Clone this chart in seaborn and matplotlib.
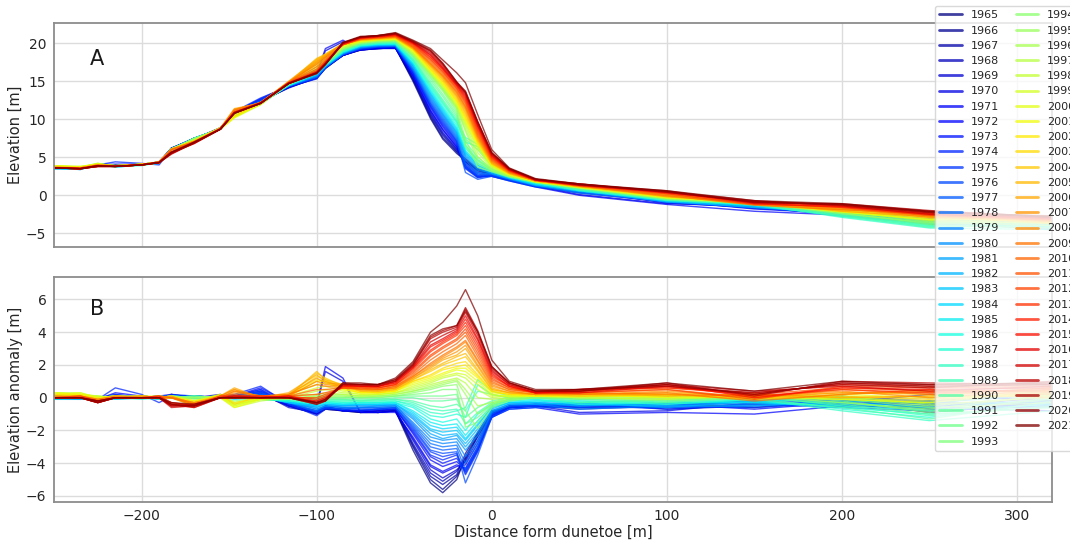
import numpy as np
import pandas as pd
import matplotlib
matplotlib.use("Agg")
import matplotlib.pyplot as plt
from matplotlib.lines import Line2D
import seaborn as sns

# ---------------- data ----------------
YEARS = list(range(1965, 2022))

# cross-shore positions [m]
X_LAND = [-250, -235, -225, -215, -200, -190, -183, -170, -155, -147, -132, -116]
X_DUNE = [-100, -95, -85, -75, -65, -55, -45, -35, -28, -20, -15, -8, 0, 10, 25]
X_SEA = [50, 100, 150, 200, 250, 320]

# mean elevation profile [m]
BASE_LAND = [3.6, 3.5, 4.1, 3.8, 4.0, 4.3, 6.0, 7.4, 8.7, 10.8, 12.1, 14.7]
BASE_DUNE = [16.4, 17.4, 19.2, 20.0, 20.2, 20.2, 18.2, 15.3, 13.2, 10.5, 8.2, 5.6, 3.7, 2.6, 1.7]
BASE_SEA = [1.0, -0.3, -1.1, -2.1, -2.9, -3.7]

# elevation anomaly per year [m]
ANOM_LAND = [
    [0.0, 0.0, -0.1, 0.0, 0.1, 0.0, 0.1, 0.0, 0.1, 0.0, 0.2, -0.5],
    [0.0, 0.1, -0.1, 0.1, 0.0, 0.0, 0.1, 0.1, 0.0, 0.1, 0.3, -0.4],
    [0.1, 0.0, 0.0, 0.0, 0.1, -0.1, 0.2, 0.0, 0.1, 0.0, 0.2, -0.5],
    [0.0, 0.1, -0.1, 0.2, 0.0, 0.0, 0.1, 0.1, 0.0, 0.1, 0.4, -0.4],
    [0.0, 0.0, 0.0, 0.1, 0.1, 0.0, 0.1, 0.0, 0.2, 0.0, 0.3, -0.6],
    [0.0, 0.1, -0.1, 0.0, 0.0, 0.1, 0.2, 0.0, 0.1, 0.1, 0.5, -0.5],
    [0.1, 0.0, 0.0, 0.1, 0.0, 0.0, 0.1, 0.1, 0.0, 0.0, 0.4, -0.4],
    [0.0, 0.0, -0.1, 0.3, 0.1, 0.0, 0.1, 0.0, 0.1, 0.1, 0.6, -0.3],
    [0.0, 0.1, 0.0, 0.1, 0.0, 0.1, 0.0, 0.1, 0.0, 0.0, 0.3, -0.5],
    [0.1, 0.0, -0.1, 0.6, 0.2, -0.3, 0.1, 0.0, 0.1, 0.2, 0.7, -0.4],
    [0.0, 0.0, 0.0, 0.2, 0.0, 0.0, 0.2, 0.1, 0.0, 0.1, 0.5, -0.3],
    [0.0, 0.1, -0.1, 0.1, 0.1, 0.0, 0.1, 0.0, 0.1, 0.0, 0.4, -0.4],
    [0.1, 0.0, 0.0, 0.0, 0.0, 0.1, 0.1, 0.1, 0.0, 0.1, 0.3, -0.3],
    [0.0, -0.1, 0.0, 0.1, 0.0, 0.0, 0.1, 0.0, 0.0, 0.1, 0.1, -0.3],
    [-0.1, 0.0, 0.0, 0.0, 0.1, 0.0, 0.0, 0.1, 0.0, 0.0, 0.2, -0.2],
    [0.0, -0.1, -0.1, 0.0, 0.0, 0.1, 0.0, 0.0, 0.1, 0.0, 0.1, -0.3],
    [-0.1, 0.0, 0.0, -0.1, 0.0, 0.0, 0.1, 0.0, 0.0, 0.1, 0.0, -0.2],
    [0.0, -0.1, 0.0, 0.0, 0.1, 0.0, 0.0, 0.1, 0.0, 0.0, 0.1, -0.3],
    [-0.1, -0.1, 0.0, 0.0, 0.0, -0.1, 0.0, 0.0, 0.1, 0.0, 0.0, -0.2],
    [0.0, 0.0, -0.2, 0.0, 0.0, 0.0, 0.1, 0.0, 0.0, -0.1, 0.0, -0.3],
    [-0.1, 0.0, 0.0, -0.1, 0.0, 0.0, 0.0, 0.1, 0.0, 0.0, -0.1, -0.2],
    [0.0, 0.0, 0.0, 0.0, -0.1, 0.0, 0.0, 0.0, 0.1, 0.0, -0.1, -0.2],
    [0.1, 0.0, -0.1, 0.0, 0.0, 0.0, 0.1, 0.0, 0.0, 0.0, 0.0, -0.1],
    [0.0, 0.1, 0.0, 0.0, 0.0, -0.1, 0.0, 0.0, 0.0, 0.1, -0.1, -0.2],
    [0.1, 0.0, 0.0, 0.1, 0.0, 0.0, 0.0, 0.1, 0.0, 0.0, 0.0, -0.1],
    [0.0, 0.1, 0.0, 0.0, 0.0, 0.0, 0.1, 0.0, 0.0, 0.0, -0.1, -0.1],
    [0.1, 0.1, 0.0, 0.0, 0.1, 0.0, 0.0, 0.0, 0.1, 0.0, 0.0, -0.1],
    [0.1, 0.0, 0.0, 0.1, 0.0, 0.0, 0.1, 0.0, 0.0, 0.1, 0.0, 0.0],
    [0.2, 0.1, 0.0, 0.0, 0.0, 0.1, 0.0, 0.0, 0.0, 0.0, 0.1, -0.1],
    [0.1, 0.2, 0.0, 0.1, 0.0, 0.0, 0.0, 0.1, 0.0, -0.2, 0.0, 0.0],
    [0.2, 0.1, 0.1, 0.0, 0.1, 0.0, 0.0, 0.0, 0.1, -0.3, 0.0, -0.1],
    [0.2, 0.2, 0.0, 0.1, 0.0, 0.0, 0.1, -0.1, 0.0, -0.4, -0.1, 0.0],
    [0.3, 0.2, 0.1, 0.0, 0.0, 0.1, 0.0, -0.2, 0.1, -0.5, -0.1, 0.1],
    [0.3, 0.3, 0.0, 0.1, 0.1, 0.0, 0.0, -0.3, 0.0, -0.6, -0.2, 0.0],
    [0.3, 0.2, 0.1, 0.0, 0.0, 0.0, 0.1, -0.2, 0.2, -0.4, -0.1, 0.1],
    [0.2, 0.3, 0.0, 0.1, 0.1, 0.1, 0.0, -0.3, 0.1, -0.5, 0.0, 0.2],
    [0.3, 0.2, -0.1, 0.0, 0.0, 0.0, 0.0, -0.4, 0.0, -0.6, -0.1, 0.1],
    [0.2, 0.2, 0.0, 0.0, 0.1, 0.0, 0.1, -0.2, 0.1, -0.3, 0.0, 0.2],
    [0.2, 0.1, -0.1, 0.1, 0.0, 0.0, 0.0, -0.3, 0.2, -0.4, 0.1, 0.1],
    [0.1, 0.1, -0.2, 0.0, 0.0, 0.0, 0.0, -0.4, 0.1, 0.5, 0.0, 0.2],
    [0.1, 0.0, -0.1, 0.0, 0.1, 0.0, 0.0, -0.5, 0.0, 0.4, 0.1, 0.1],
    [0.1, 0.1, -0.2, 0.1, 0.0, 0.1, 0.0, -0.3, 0.1, 0.6, 0.0, 0.3],
    [0.0, 0.1, -0.1, 0.0, 0.0, 0.0, 0.1, -0.4, 0.0, 0.3, 0.1, 0.2],
    [0.1, 0.0, -0.2, 0.0, 0.1, 0.0, 0.0, -0.5, 0.1, 0.5, 0.0, 0.1],
    [0.0, 0.1, -0.1, 0.1, 0.0, 0.0, 0.0, -0.3, 0.0, 0.4, 0.1, 0.2],
    [0.0, 0.0, -0.2, 0.0, 0.0, 0.1, 0.0, -0.4, 0.1, 0.2, 0.0, 0.1],
    [0.0, 0.0, -0.2, 0.0, 0.0, 0.0, -0.3, -0.5, 0.0, 0.1, 0.0, 0.1],
    [0.0, 0.0, -0.3, 0.0, 0.0, 0.0, -0.4, -0.4, 0.0, 0.0, 0.1, 0.0],
    [0.0, 0.1, -0.2, 0.0, 0.0, 0.0, -0.5, -0.5, 0.1, 0.1, 0.0, 0.1],
    [0.0, 0.0, -0.3, 0.0, 0.0, 0.0, -0.4, -0.6, 0.0, 0.0, 0.0, 0.0],
    [0.0, 0.0, -0.3, 0.0, 0.0, 0.1, -0.3, -0.5, 0.0, 0.1, 0.1, 0.0],
    [0.0, 0.0, -0.2, 0.0, 0.0, 0.0, -0.5, -0.4, 0.0, 0.0, 0.0, 0.1],
    [0.0, 0.0, -0.3, 0.0, 0.0, 0.0, -0.6, -0.5, 0.0, 0.1, 0.0, 0.0],
    [0.0, 0.0, -0.2, 0.0, 0.0, 0.0, -0.4, -0.6, 0.0, 0.0, 0.0, 0.0],
    [0.0, 0.0, -0.3, 0.0, 0.0, 0.0, -0.5, -0.5, 0.0, 0.0, 0.0, 0.0],
    [0.0, 0.0, -0.3, 0.0, 0.0, 0.0, -0.4, -0.5, 0.0, 0.0, 0.0, 0.0],
    [0.0, 0.0, -0.2, 0.0, 0.0, 0.0, -0.3, -0.4, 0.0, 0.0, 0.0, 0.0],
]

ANOM_DUNE = [
    [-1.0, -0.7, -0.8, -0.9, -0.9, -0.8, -3.2, -5.2, -5.8, -5.0, -3.6, -2.2, -0.9, -0.6, -0.5],
    [-0.9, -0.6, -0.8, -0.9, -0.8, -0.8, -3.0, -5.0, -5.6, -4.8, -3.8, -2.3, -0.9, -0.5, -0.5],
    [-1.0, -0.7, -0.8, -0.8, -0.9, -0.8, -2.9, -4.8, -5.3, -4.7, -3.4, -2.1, -0.8, -0.6, -0.4],
    [-0.8, -0.6, -0.7, -0.9, -0.8, -0.7, -2.8, -4.6, -5.1, -4.5, -3.7, -2.4, -1.0, -0.6, -0.5],
    [-0.9, -0.5, -0.8, -0.8, -0.9, -0.8, -2.6, -4.4, -4.9, -4.4, -3.9, -2.6, -1.0, -0.5, -0.4],
    [-0.5, 1.6, 1.0, -0.9, -0.9, -0.8, -2.5, -4.2, -4.6, -4.2, -4.1, -2.8, -1.1, -0.6, -0.5],
    [-0.4, 1.9, 1.2, -0.9, -0.9, -0.9, -2.4, -4.1, -4.5, -4.1, -4.3, -3.0, -1.2, -0.7, -0.6],
    [-1.0, -0.6, -0.8, -0.8, -0.8, -0.7, -2.2, -3.8, -4.2, -3.9, -4.4, -3.1, -1.1, -0.6, -0.5],
    [-0.9, -0.5, -0.8, -0.8, -0.7, -0.7, -2.1, -3.6, -4.0, -3.7, -4.5, -3.2, -1.2, -0.6, -0.5],
    [-1.1, -0.7, -0.7, -0.8, -0.7, -0.7, -2.0, -3.5, -3.8, -3.5, -4.7, -3.3, -1.0, -0.5, -0.4],
    [-0.9, -0.6, -0.7, -0.7, -0.7, -0.6, -1.9, -3.3, -3.6, -3.4, -4.6, -3.2, -1.1, -0.6, -0.5],
    [-0.8, -0.5, -0.6, -0.7, -0.7, -0.6, -1.8, -3.2, -3.4, -3.3, -5.2, -3.5, -1.2, -0.7, -0.6],
    [-0.9, -0.6, -0.7, -0.6, -0.6, -0.6, -1.7, -3.0, -3.2, -3.1, -4.4, -3.0, -1.0, -0.5, -0.5],
    [-0.8, -0.5, -0.6, -0.6, -0.6, -0.5, -1.6, -2.8, -3.0, -2.9, -4.0, -2.8, -0.9, -0.5, -0.4],
    [-0.7, -0.5, -0.6, -0.6, -0.5, -0.5, -1.5, -2.6, -2.8, -2.7, -3.6, -2.6, -0.9, -0.4, -0.4],
    [-0.7, -0.5, -0.5, -0.5, -0.5, -0.5, -1.3, -2.4, -2.6, -2.5, -3.2, -2.3, -0.8, -0.4, -0.3],
    [-0.6, -0.4, -0.5, -0.5, -0.5, -0.4, -1.2, -2.2, -2.5, -2.3, -3.0, -2.1, -0.8, -0.4, -0.4],
    [-0.6, -0.4, -0.5, -0.4, -0.4, -0.4, -1.1, -2.0, -2.3, -2.2, -2.8, -1.9, -0.7, -0.3, -0.3],
    [-0.5, -0.4, -0.4, -0.4, -0.4, -0.4, -1.0, -1.9, -2.1, -2.0, -2.6, -1.7, -0.6, -0.3, -0.3],
    [-0.5, -0.3, -0.4, -0.4, -0.4, -0.3, -0.9, -1.7, -1.9, -1.8, -2.5, -1.6, -0.6, -0.3, -0.2],
    [-0.4, -0.3, -0.4, -0.3, -0.3, -0.3, -0.8, -1.5, -1.7, -1.6, -2.3, -1.4, -0.5, -0.2, -0.2],
    [-0.4, -0.3, -0.3, -0.3, -0.3, -0.3, -0.6, -1.3, -1.5, -1.3, -2.0, -1.0, -0.4, -0.2, -0.1],
    [-0.3, -0.2, -0.3, -0.3, -0.3, -0.2, -0.5, -1.1, -1.2, -1.0, -1.2, 0.8, 0.2, 0.0, -0.1],
    [-0.3, -0.2, -0.2, -0.2, -0.2, -0.2, -0.4, -0.9, -1.0, -0.8, -0.6, 1.1, 0.4, 0.1, 0.0],
    [-0.2, -0.2, -0.2, -0.2, -0.2, -0.1, -0.3, -0.7, -0.8, -0.7, -1.6, -0.9, -0.3, -0.1, 0.0],
    [-0.2, -0.1, -0.1, -0.2, -0.1, -0.1, -0.2, -0.5, -0.6, -0.4, -0.8, 0.4, 0.2, 0.0, 0.0],
    [-0.1, -0.1, -0.1, -0.1, -0.1, 0.0, 0.0, -0.2, -0.2, -0.1, -1.2, -0.6, -0.2, 0.0, 0.1],
    [-0.1, 0.0, 0.0, 0.0, 0.0, 0.1, 0.1, 0.1, 0.1, 0.2, -1.6, -1.2, -0.4, -0.1, 0.0],
    [0.0, 0.0, 0.0, 0.0, 0.0, 0.1, 0.2, 0.3, 0.5, 0.5, -1.8, -1.5, -0.5, -0.1, 0.0],
    [0.0, 0.1, 0.1, 0.0, 0.1, 0.1, 0.3, 0.5, 0.7, 0.8, -0.8, -1.9, -0.6, -0.2, 0.0],
    [0.1, 0.1, 0.1, 0.1, 0.1, 0.2, 0.4, 0.6, 0.8, 1.0, 0.2, -1.0, -0.4, -0.1, 0.1],
    [0.1, 0.2, 0.2, 0.1, 0.1, 0.2, 0.4, 0.7, 0.9, 1.1, 0.5, -0.5, -0.3, 0.0, 0.1],
    [0.2, 0.3, 0.2, 0.1, 0.2, 0.3, 0.5, 0.8, 1.0, 1.2, 0.9, 0.0, -0.1, 0.0, 0.1],
    [0.4, 0.5, 0.3, 0.2, 0.2, 0.3, 0.6, 0.9, 1.2, 1.4, 1.2, 0.5, 0.0, 0.1, 0.1],
    [0.6, 0.7, 0.4, 0.2, 0.2, 0.3, 0.7, 1.0, 1.3, 1.5, 1.4, 0.8, 0.1, 0.1, 0.1],
    [0.8, 0.9, 0.5, 0.3, 0.3, 0.4, 0.8, 1.1, 1.4, 1.7, 1.6, 1.0, 0.2, 0.1, 0.1],
    [1.0, 1.0, 0.5, 0.3, 0.3, 0.4, 0.9, 1.2, 1.5, 1.8, 1.8, 1.2, 0.3, 0.2, 0.1],
    [1.1, 1.0, 0.6, 0.3, 0.3, 0.4, 1.0, 1.3, 1.7, 1.9, 2.0, 1.3, 0.4, 0.2, 0.1],
    [1.3, 1.1, 0.6, 0.4, 0.3, 0.5, 1.0, 1.4, 1.8, 2.1, 2.2, 1.4, 0.4, 0.2, 0.2],
    [1.5, 1.2, 0.7, 0.4, 0.4, 0.5, 1.1, 1.6, 2.0, 2.3, 2.5, 1.6, 0.5, 0.3, 0.2],
    [1.6, 1.1, 0.8, 0.4, 0.4, 0.5, 1.1, 1.7, 2.1, 2.5, 2.7, 1.7, 0.5, 0.3, 0.2],
    [1.4, 1.0, 0.7, 0.5, 0.4, 0.6, 1.2, 1.8, 2.3, 2.6, 3.0, 1.9, 0.6, 0.3, 0.2],
    [1.2, 0.9, 0.8, 0.5, 0.5, 0.6, 1.2, 1.9, 2.4, 2.8, 3.2, 2.0, 0.7, 0.4, 0.2],
    [1.0, 0.8, 0.7, 0.5, 0.5, 0.6, 1.3, 2.0, 2.5, 3.0, 3.4, 2.2, 0.8, 0.4, 0.2],
    [0.8, 0.7, 0.6, 0.5, 0.5, 0.7, 1.3, 2.1, 2.6, 3.1, 3.5, 2.3, 0.9, 0.5, 0.3],
    [0.5, 0.5, 0.6, 0.6, 0.5, 0.7, 1.4, 2.3, 2.8, 3.3, 3.8, 2.5, 1.0, 0.5, 0.3],
    [0.2, 0.3, 0.6, 0.6, 0.6, 0.8, 1.5, 2.5, 3.0, 3.5, 4.0, 2.7, 1.1, 0.6, 0.3],
    [0.0, 0.2, 0.6, 0.6, 0.6, 0.8, 1.6, 2.6, 3.1, 3.6, 4.2, 2.9, 1.2, 0.6, 0.3],
    [-0.1, 0.1, 0.7, 0.7, 0.6, 0.8, 1.7, 2.8, 3.3, 3.8, 4.4, 3.1, 1.3, 0.7, 0.3],
    [-0.2, 0.0, 0.7, 0.7, 0.7, 0.9, 1.8, 2.9, 3.4, 3.9, 4.6, 3.3, 1.4, 0.7, 0.3],
    [-0.2, 0.0, 0.7, 0.7, 0.7, 0.9, 1.8, 3.1, 3.5, 4.0, 4.8, 3.5, 1.5, 0.7, 0.3],
    [-0.3, -0.1, 0.8, 0.7, 0.7, 1.0, 1.9, 3.2, 3.6, 4.1, 5.0, 3.6, 1.6, 0.8, 0.3],
    [-0.3, -0.1, 0.8, 0.8, 0.7, 1.0, 1.9, 3.4, 3.8, 4.2, 5.2, 3.8, 1.7, 0.8, 0.4],
    [-0.4, -0.2, 0.8, 0.8, 0.8, 1.0, 2.0, 3.6, 4.0, 4.3, 5.4, 4.0, 1.8, 0.9, 0.4],
    [-0.4, -0.2, 0.8, 0.8, 0.8, 1.1, 2.0, 3.7, 4.1, 4.4, 5.5, 4.1, 1.9, 0.9, 0.4],
    [-0.3, -0.2, 0.9, 0.8, 0.8, 1.1, 2.1, 3.8, 4.2, 4.4, 5.3, 4.0, 1.9, 0.9, 0.4],
    [-0.3, -0.1, 0.9, 0.9, 0.8, 1.2, 2.2, 4.0, 4.6, 5.6, 6.6, 5.0, 2.3, 1.0, 0.5],
]

ANOM_SEA = [
    [-0.6, -0.4, -0.6, -0.2, -0.9, -0.3],
    [-0.4, -0.6, -0.4, -0.1, -0.7, -0.5],
    [-0.5, -0.3, -0.3, -0.5, -0.6, 0.1],
    [-0.7, -0.5, -0.2, 0.1, -0.4, -0.4],
    [-0.3, -0.7, -0.5, -0.2, -0.3, -0.6],
    [-0.9, -0.8, -0.3, 0.0, -0.2, 0.2],
    [-1.0, -0.9, -1.0, -0.5, -0.6, -0.8],
    [-0.5, -0.4, -0.7, -0.3, 0.2, -0.2],
    [-0.6, -0.6, -0.2, -0.4, -0.3, 0.3],
    [-0.4, -0.7, -0.4, -0.6, -0.8, -0.5],
    [-0.5, -0.5, -0.6, -0.3, -0.5, 0.0],
    [-0.6, -0.4, -0.2, -0.1, -0.4, -0.3],
    [-0.4, -0.6, -0.5, -0.4, -0.2, -0.6],
    [-0.5, -0.3, -0.3, -0.5, -0.6, -0.2],
    [-0.7, -0.5, -0.1, -0.2, -0.3, -0.4],
    [-0.4, -0.4, -0.4, -0.3, -0.5, 0.1],
    [-0.3, -0.6, -0.2, 0.0, -0.4, -0.3],
    [-0.5, -0.3, -0.3, -0.4, -0.7, -0.5],
    [-0.4, -0.5, -0.5, -0.2, -0.3, 0.2],
    [-0.3, -0.4, -0.1, -0.3, -0.6, -0.1],
    [-0.2, -0.3, -0.3, -0.5, -0.8, -0.4],
    [-0.3, -0.2, -0.2, -0.6, -1.0, -0.6],
    [-0.4, -0.3, 0.0, -0.7, -1.2, -0.3],
    [-0.2, -0.4, -0.1, -0.8, -1.4, -0.8],
    [-0.1, -0.2, 0.1, -0.5, -1.1, -0.5],
    [-0.3, -0.1, -0.1, -0.6, -1.3, -0.2],
    [-0.1, -0.3, 0.0, -0.4, -1.0, -0.6],
    [0.0, -0.1, 0.1, -0.3, -0.8, -0.1],
    [-0.1, 0.0, 0.2, -0.2, -0.9, 0.0],
    [0.0, -0.2, 0.0, -0.1, -0.6, -0.3],
    [0.1, 0.0, 0.1, -0.3, -0.7, 0.2],
    [0.0, 0.1, 0.2, 0.0, -0.5, 0.1],
    [0.1, 0.0, 0.0, -0.1, -0.3, 0.3],
    [0.2, 0.1, 0.2, 0.1, -0.4, 0.0],
    [0.0, -0.1, 0.1, 0.0, -0.2, 0.4],
    [0.1, 0.2, -0.1, 0.2, 0.0, 0.2],
    [0.2, 0.0, 0.1, -0.1, -0.3, 0.5],
    [0.1, 0.1, 0.2, 0.0, 0.1, 0.1],
    [0.2, 0.2, 0.0, 0.1, -0.1, 0.3],
    [0.2, 0.3, 0.1, 0.3, 0.2, 0.0],
    [0.1, 0.2, -0.1, 0.2, 0.4, 0.4],
    [0.3, 0.1, 0.2, 0.0, 0.1, 0.6],
    [0.2, 0.4, 0.0, 0.3, 0.3, 0.2],
    [0.3, 0.2, 0.1, 0.4, 0.0, 0.5],
    [0.2, 0.3, -0.2, 0.2, 0.5, 0.3],
    [0.3, 0.5, 0.0, 0.5, 0.2, 0.6],
    [0.4, 0.6, 0.2, 0.6, 0.4, 0.4],
    [0.3, 0.5, -0.1, 0.7, 0.6, 0.7],
    [0.4, 0.7, 0.1, 0.5, 0.3, 0.5],
    [0.5, 0.6, 0.3, 0.8, 0.7, 0.8],
    [0.4, 0.8, 0.0, 0.6, 0.5, 0.6],
    [0.3, 0.7, 0.2, 0.9, 0.8, 0.9],
    [0.5, 0.8, 0.4, 0.7, 0.4, 0.7],
    [0.4, 0.9, 0.1, 1.0, 0.9, 0.8],
    [0.5, 0.7, 0.3, 0.8, 0.6, 1.0],
    [0.4, 0.8, 0.2, 0.9, 0.7, 0.8],
    [0.5, 0.9, 0.4, 1.0, 0.8, 0.9],
]

X_TICKS = [-200, -100, 0, 100, 200, 300]
YA_TICKS = [-5, 0, 5, 10, 15, 20]
YB_TICKS = [-6, -4, -2, 0, 2, 4, 6]

# ---------------- build long table ----------------
x_all = np.array(X_LAND + X_DUNE + X_SEA, dtype=float)
base = np.array(BASE_LAND + BASE_DUNE + BASE_SEA)
rows = []
for i, yr in enumerate(YEARS):
    anom = np.array(ANOM_LAND[i] + ANOM_DUNE[i] + ANOM_SEA[i])
    for xv, b, a in zip(x_all, base, anom):
        rows.append({"year": str(yr), "x": xv, "elev": b + a, "anom": a})
df = pd.DataFrame(rows)

year_labels = [str(y) for y in YEARS]
colors = [plt.cm.jet(v) for v in np.linspace(0, 1, len(YEARS))]

# ---------------- figure ----------------
sns.set_theme(style="whitegrid")
plt.rcParams["font.family"] = ["DejaVu Sans"]

fig = plt.figure(figsize=(10.7, 5.4), dpi=100)
axA = fig.add_axes([0.0505, 0.542, 0.9327, 0.416])
axB = fig.add_axes([0.0505, 0.0709, 0.9327, 0.4156])

line_kw = dict(hue="year", hue_order=year_labels, palette=colors, legend=False,
               linewidth=1.0, alpha=0.72, estimator=None, sort=False)
sns.lineplot(data=df, x="x", y="elev", ax=axA, **line_kw)
sns.lineplot(data=df, x="x", y="anom", ax=axB, **line_kw)

for ax in (axA, axB):
    ax.set_facecolor("white")
    ax.set_xlim(-250, 320)
    ax.set_xticks(X_TICKS)
    ax.grid(True, color="#dcdcdc", linewidth=1.0)
    for sp in ax.spines.values():
        sp.set_color("#8c8c8c")
        sp.set_linewidth(1.3)
    ax.tick_params(axis="both", which="major", length=3.5, width=0.8,
                   color="#8c8c8c", labelsize=10, labelcolor="#262626", pad=2)

axA.set_ylim(-6.84, 22.7)
axA.set_yticks(YA_TICKS)
axA.tick_params(labelbottom=False)
axA.set_xlabel("")
axA.set_ylabel("Elevation [m]", fontsize=10.5, color="#262626", labelpad=2)

axB.set_ylim(-6.35, 7.35)
axB.set_yticks(YB_TICKS)
axB.set_xlabel("Distance form dunetoe [m]", fontsize=10.5, color="#262626", labelpad=1)
axB.set_ylabel("Elevation anomaly [m]", fontsize=10.5, color="#262626", labelpad=2)

axA.text(0.043, 0.837, "A", transform=axA.transAxes, fontsize=15,
         ha="center", va="center", color="#1a1a1a")
axB.text(0.043, 0.857, "B", transform=axB.transAxes, fontsize=15,
         ha="center", va="center", color="#1a1a1a")

handles = [Line2D([0], [0], color=c, lw=2.0, alpha=0.75) for c in colors]
leg = fig.legend(handles, year_labels, loc="upper left", bbox_to_anchor=(0.8738, 0.989),
                 ncol=2, fontsize=8, frameon=True, framealpha=0.8, borderaxespad=0,
                 labelspacing=0.47, handlelength=2.0, columnspacing=1.5)
leg.get_frame().set_edgecolor("#d0d0d0")
for t in leg.get_texts():
    t.set_color("#262626")

fig.savefig("out.png", dpi=100)
